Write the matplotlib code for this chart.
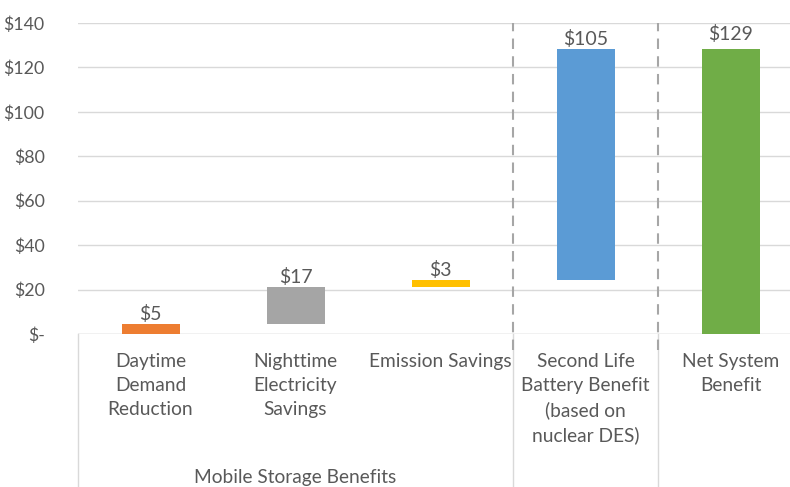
import matplotlib.pyplot as plt
from matplotlib.ticker import FuncFormatter

categories = ["Daytime\nDemand\nReduction", "Nighttime\nElectricity\nSavings",
              "Emission Savings", "Second Life\nBattery Benefit\n(based on\nnuclear DES)",
              "Net System\nBenefit"]
values = [4.5, 16.6, 3.2, 104.0]
labels = ["$5", "$17", "$3", "$105", "$129"]
colors = ["#ED7D31", "#A5A5A5", "#FFC000", "#5B9BD5", "#70AD47"]
group_label = "Mobile Storage Benefits"

plt.rcParams['font.family'] = ['Lato', 'DejaVu Sans']
text_col = "#595959"

# waterfall bottoms/heights
bottoms = []
run = 0
for v in values:
    bottoms.append(run)
    run += v
heights = values + [run]
bottoms = bottoms + [0]

fig = plt.figure(figsize=(7.9, 4.87), dpi=100)
ax = fig.add_axes([78 / 790, 153 / 487, 725 / 790, 311 / 487])

x = range(len(categories))
ax.bar(x, heights, bottom=bottoms, width=0.4, color=colors, zorder=3)

for i, (b, h, lab) in enumerate(zip(bottoms, heights, labels)):
    off = 4 if i == 4 else 1
    ax.annotate(lab, (i, b + h), xytext=(0, off), textcoords="offset points",
                ha="center", va="bottom", fontsize=14, color=text_col)

ax.set_xlim(-0.5, 4.5)
ax.set_ylim(0, 140)
ax.set_yticks(range(0, 141, 20))
ax.yaxis.set_major_formatter(FuncFormatter(lambda v, p: "$-" if v == 0 else f"${v:.0f}"))
ax.grid(axis="y", color="#d9d9d9", linewidth=1, zorder=0)
for s in ax.spines.values():
    s.set_visible(False)
ax.axhline(0, color="#d9d9d9", linewidth=1, zorder=1)

ax.set_xticks(list(x))
ax.set_xticklabels(categories, linespacing=1.47)
ax.tick_params(axis="x", length=0, pad=14, labelsize=13.8, labelcolor=text_col)
ax.tick_params(axis="y", length=0, pad=24, labelsize=12.8, labelcolor=text_col)

trans = ax.get_xaxis_transform()
# category group separators below the axis
for xs in [-0.5, 2.5, 3.5]:
    ax.plot([xs, xs], [0, -0.5], transform=trans, color="#d9d9d9",
            linewidth=1, clip_on=False)
# dashed dividers
for xs in [2.5, 3.5]:
    ax.plot([xs, xs], [-0.05, 1.0], transform=trans, color="#a6a6a6",
            linewidth=1.5, linestyle=(0, (5, 3.5)), clip_on=False, zorder=4)

ax.text(1, -0.462, group_label, transform=trans, ha="center", va="center",
        fontsize=13.8, color=text_col)

fig.savefig("out.png", dpi=100)
